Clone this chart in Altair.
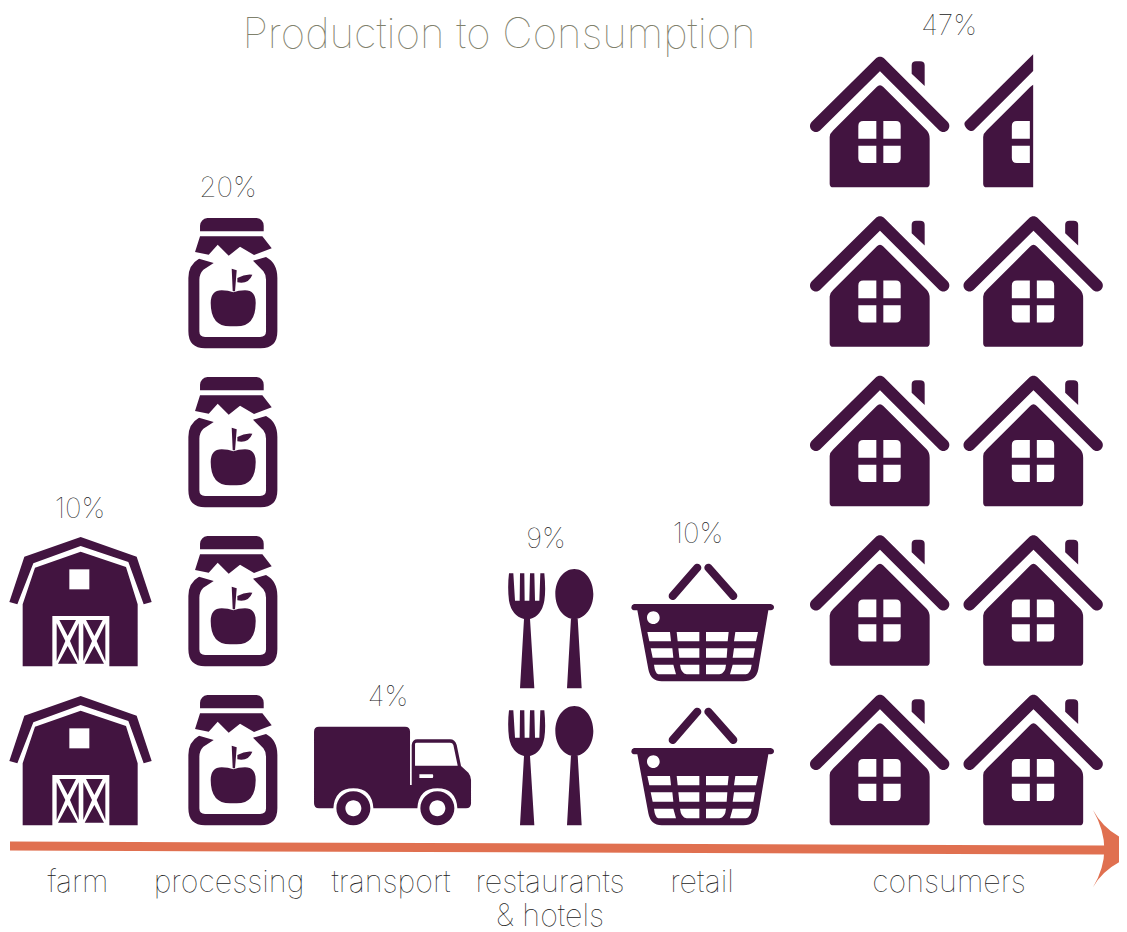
import re
import altair as alt
import pandas as pd

# ---- data ----
stages = ["farm", "processing", "transport", "restaurants", "retail", "consumers"]
percents = ["10%", "20%", "4%", "9%", "10%", "47%"]
pct_x = [80, 228, 388, 546, 698, 949]
pct_y = [510, 189, 698, 540, 535, 27]
label_text = ["farm", "processing", "transport", "restaurants", "& hotels", "retail", "consumers"]
label_x = [78, 229, 391, 550, 550, 702, 949]
label_y = [883, 883, 883, 883, 916.5, 883, 883]
title_text = ["Production to Consumption"]
title_x = [499]
title_y = [35]

barn_x = [80.67, 80.67]
barn_y = [760.67, 601.67]
jar_x = [232.7, 232.7, 232.7, 232.7]
jar_y = [760.67, 601.67, 442.67, 283.67]
truck_x = [392.7]
truck_y = [760.67]
cutlery_x = [550, 550]
cutlery_y = [766, 629]
basket_x = [702.67, 702.67]
basket_y = [760, 616]
house_x = [880, 880, 880, 880, 880, 1033.5, 1033.5, 1033.5, 1033.5]
house_y = [760, 600.5, 441, 281.5, 122, 760, 600.5, 441, 281.5]
half_x = [1033.5]
half_y = [122]
arrow_x = [10, 1105]
arrow_y = [846, 850]
head_x = [1099.67]
head_y = [849.3]

PURPLE = "#421440"
ORANGE = "#E07050"
FONT = "Inter"


def scale_path(path, cx, cy):
    i = [0]
    def f(m):
        v = float(m.group(0))
        c = cx if i[0] % 2 == 0 else cy
        i[0] += 1
        return f"{(v - c) / 300:.4f}"
    return re.sub(r"-?\d+\.?\d*", f, path)


def ellipse(cx, cy, rx, ry):
    k = 0.5523
    return (f"M{cx - rx},{cy} C{cx - rx},{cy - k * ry} {cx - k * rx},{cy - ry} {cx},{cy - ry} "
            f"C{cx + k * rx},{cy - ry} {cx + rx},{cy - k * ry} {cx + rx},{cy} "
            f"C{cx + rx},{cy + k * ry} {cx + k * rx},{cy + ry} {cx},{cy + ry} "
            f"C{cx - k * rx},{cy + ry} {cx - rx},{cy + k * ry} {cx - rx},{cy} Z ")


def capsule(x1, y1, x2, y2, w):
    dx, dy = x2 - x1, y2 - y1
    d = (dx * dx + dy * dy) ** 0.5
    ux, uy = dx / d, dy / d
    nx, ny = -uy * w / 2, ux * w / 2
    ex, ey = ux * w / 2, uy * w / 2
    k = 0.5523
    def p(x, y):
        return f"{x:.2f},{y:.2f}"
    return (f"M{p(x1 + nx, y1 + ny)} L{p(x2 + nx, y2 + ny)} "
            f"C{p(x2 + nx + k * ex, y2 + ny + k * ey)} {p(x2 + ex + k * nx, y2 + ey + k * ny)} {p(x2 + ex, y2 + ey)} "
            f"C{p(x2 + ex - k * nx, y2 + ey - k * ny)} {p(x2 - nx + k * ex, y2 - ny + k * ey)} {p(x2 - nx, y2 - ny)} "
            f"L{p(x1 - nx, y1 - ny)} "
            f"C{p(x1 - nx - k * ex, y1 - ny - k * ey)} {p(x1 - ex - k * nx, y1 - ey - k * ny)} {p(x1 - ex, y1 - ey)} "
            f"C{p(x1 - ex + k * nx, y1 - ey + k * ny)} {p(x1 + nx - k * ex, y1 + ny - k * ey)} {p(x1 + nx, y1 + ny)} Z ")


# ---- icon outlines ----
def tri(dx):
    return (f"M{178 + dx},297 L{228 + dx},297 L{203 + dx},345 Z "
            f"M{170 + dx},307 L{196 + dx},360 L{170 + dx},420 Z "
            f"M{236 + dx},307 L{236 + dx},420 L{210 + dx},360 Z "
            f"M{203 + dx},375 L{232 + dx},428 L{174 + dx},428 Z ")


barn_dark = (
    "M242,48 L410,107 L455,243 L431,250 L385,123 L242,75 L100,127 L52,250 L28,243 L73,107 Z "
    "M242,92 L378,138 L413,250 L413,436 L328,436 L328,285 L157,285 L157,436 L68,436 L68,250 L105,140 Z "
    + tri(0) + tri(80)
)
barn_white = "M208,145 L268,145 L268,205 L208,205 Z"

jar_dark = (
    "M600,85 L600,68 Q602,48 622,45 L770,45 Q790,48 791,68 L791,85 Z "
    "M600,100 L787,100 L815,136 L762,156 L720,131 L686,158 L653,125 L626,155 L585,147 Z "
    "M597,167 Q565,185 565,225 L565,385 Q565,436 615,436 L782,436 Q832,436 832,385 L832,225 Q832,180 798,162 "
    "L759,173 L790,205 Q798,215 798,230 L798,385 Q798,402 780,402 L615,402 Q598,402 598,385 L598,230 "
    "Q598,212 610,200 L641,180 Z "
    "M632,300 Q632,262 665,262 Q685,262 700,268 Q715,262 735,262 Q767,262 767,300 Q767,370 710,370 L690,370 Q632,370 632,300 Z "
    "M695,197 L710,202 L705,265 L698,265 Z "
    "M712,225 Q735,212 757,215 Q745,245 712,238 Z"
)

truck_dark = (
    "M42,155 Q42,140 57,140 L315,140 Q330,140 330,155 L330,315 L335,315 L335,195 Q337,178 352,178 L450,178 "
    "Q465,178 470,195 L483,258 L505,278 Q513,288 513,300 L513,370 Q513,385 498,385 L472,385 "
    "Q468,325 412,325 Q356,325 352,385 L220,385 Q216,325 160,325 Q104,325 100,385 L57,385 Q42,385 42,370 Z "
    + ellipse(160, 385, 51, 51) + ellipse(412, 385, 51, 51)
)
truck_white = (
    "M345,192 Q345,188 350,188 L450,188 Q458,188 460,195 L473,257 L345,257 Z "
    "M358,283 L398,283 Q401,288 398,294 L358,294 Z "
    + ellipse(160, 385, 24, 24) + ellipse(412, 385, 24, 24)
)

cutlery_dark = (
    "M627,88 L640,88 L645,170 L659,170 L660,88 L673,88 L674,170 L688,170 L690,88 L703,88 L705,170 L718,170 "
    "L721,88 L733,88 Q738,140 733,170 Q725,215 690,225 L703,433 L660,433 L672,225 Q635,215 627,170 Q622,130 627,88 Z "
    "M813,222 L833,222 L845,433 L801,433 Z "
    + ellipse(823, 150, 57, 75)
)

basket_dark = (
    capsule(232, 95, 158, 180, 24) + capsule(265, 95, 340, 180, 24) +
    "M42,204 L452,204 Q462,206 462,214 Q462,222 452,223 L445,223 L415,400 Q408,436 370,436 L125,436 "
    "Q92,436 85,400 L52,223 L42,223 Q34,222 34,214 Q34,206 42,204 Z"
)
basket_white = (
    ellipse(100, 245, 19, 19) +
    "M82,288 L150,288 L153,316 L88,316 Z M170,288 L238,288 L238,316 L173,316 Z "
    "M258,288 L326,288 L323,316 L258,316 Z M346,288 L414,288 L408,316 L342,316 Z "
    "M92,337 L157,337 L160,365 L98,365 Z M175,337 L238,337 L238,365 L178,365 Z "
    "M258,337 L322,337 L320,365 L258,365 Z M342,337 L405,337 L400,365 L338,365 Z "
    "M102,386 L160,386 L168,415 L115,415 Q105,412 102,386 Z M180,386 L238,386 L238,415 L200,415 Q183,412 180,386 Z "
    "M258,386 L318,386 Q316,412 298,415 L258,415 Z M338,386 L395,386 Q392,412 378,415 L330,415 Z"
)

house_dark = (
    capsule(780, 62, 588, 252, 36) + capsule(780, 62, 970, 252, 36) +
    "M875,70 Q875,58 888,58 L900,58 Q914,58 914,70 L914,132 L875,95 Z "
    "M770,135 Q780,125 790,135 L920,265 Q929,275 929,290 L929,425 Q929,436 918,436 L640,436 Q629,436 629,425 "
    "L629,285 Q629,275 640,265 Z"
)
pane_l = ("M715,252 Q715,237 730,237 L769,237 L769,290 L715,290 Z "
          "M715,311 L769,311 L769,363 L730,363 Q715,363 715,348 Z ")
house_white = (pane_l +
               "M790,237 L828,237 Q842,237 842,252 L842,290 L790,290 Z "
               "M790,311 L842,311 L842,348 Q842,363 828,363 L790,363 Z")
half_dark = (
    "M779,37 L575,239 C565,250 590,275 601,265 L779,87 Z "
    "M779,128 L779,436 L640,436 Q629,436 629,425 L629,285 Q629,275 640,265 L770,135 Q775,130 779,128 Z"
)
head_path = "M280,30 Q312,90 381,122 L381,176 Q312,205 280,262 Q314,205 314,148 Q314,90 280,30 Z"

X = alt.Scale(domain=[8, 1119], range=[0, 1111], nice=False, zero=False)
Y = alt.Scale(domain=[8, 932], range=[0, 924], nice=False, zero=False)


def points(xs, ys, path, cx, cy, color):
    df = pd.DataFrame({"x": xs, "y": ys})
    return alt.Chart(df).mark_point(
        shape=scale_path(path, cx, cy), size=40000, filled=True, fill=color,
        strokeWidth=0, opacity=1
    ).encode(x=alt.X("x:Q", scale=X, axis=None), y=alt.Y("y:Q", scale=Y, axis=None))


def texts(t, xs, ys, size, color, weight):
    df = pd.DataFrame({"t": t, "x": xs, "y": ys})
    return alt.Chart(df).mark_text(
        font=FONT, fontSize=size, fontWeight=weight, color=color, baseline="middle", align="center"
    ).encode(x=alt.X("x:Q", scale=X, axis=None), y=alt.Y("y:Q", scale=Y, axis=None), text="t:N")


layers = [
    texts(title_text, title_x, title_y, 42, "#7F816C", 100),
    points(barn_x, barn_y, barn_dark, 242, 242, PURPLE),
    points(barn_x, barn_y, barn_white, 242, 242, "#FFFFFF"),
    points(jar_x, jar_y, jar_dark, 698, 242, PURPLE),
    points(truck_x, truck_y, truck_dark, 278, 242, PURPLE),
    points(truck_x, truck_y, truck_white, 278, 242, "#FFFFFF"),
    points(cutlery_x, cutlery_y, cutlery_dark, 750, 255, PURPLE),
    points(basket_x, basket_y, basket_dark, 248, 240, PURPLE),
    points(basket_x, basket_y, basket_white, 248, 240, "#FFFFFF"),
    points(house_x, house_y, house_dark, 780, 240, PURPLE),
    points(house_x, house_y, house_white, 780, 240, "#FFFFFF"),
    points(half_x, half_y, half_dark, 780, 240, PURPLE),
    points(half_x, half_y, pane_l, 780, 240, "#FFFFFF"),
    alt.Chart(pd.DataFrame({"x": arrow_x, "y": arrow_y})).mark_line(
        color=ORANGE, strokeWidth=9
    ).encode(x=alt.X("x:Q", scale=X, axis=None), y=alt.Y("y:Q", scale=Y, axis=None)),
    points(head_x, head_y, head_path, 300, 148, ORANGE),
    texts(percents, pct_x, pct_y, 28, "#222222", 100),
    texts(label_text, label_x, label_y, 30.5, "#222222", 100),
]

chart = alt.layer(*layers).properties(
    width=1111, height=924, padding=0, background="#FFFFFF",
    autosize=alt.AutoSizeParams(type="none")
).configure_view(stroke=None)

chart.save("out.html", embed_options={"renderer": "svg", "actions": False})
